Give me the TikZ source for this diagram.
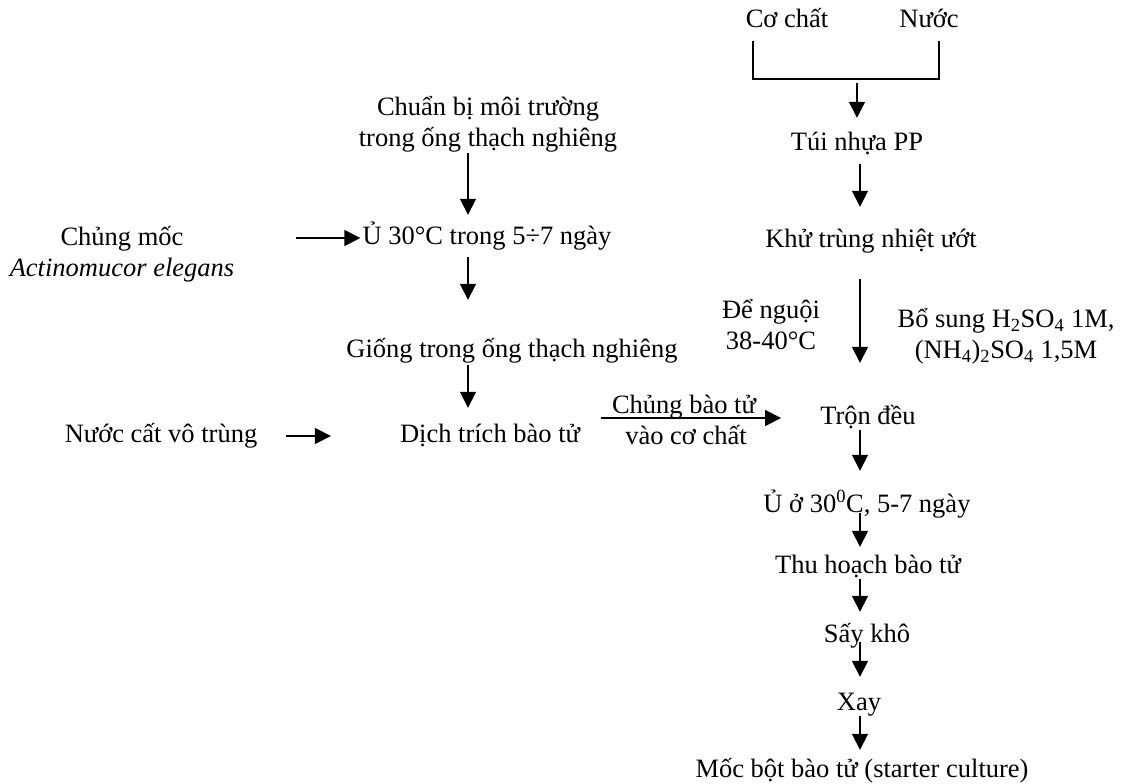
\documentclass[tikz,border=0pt]{standalone}
\usepackage{fontspec}
\setmainfont{Liberation Serif}
\usepackage{tikz}
\usetikzlibrary{arrows.meta}

\begin{document}
\begin{tikzpicture}[
    x=1pt, y=-1pt,
    font=\fontsize{26.5}{31}\selectfont,
    txt/.style={inner sep=0pt, anchor=base, text height=18pt, text depth=6pt},
    txtm/.style={inner sep=0pt, align=center},
    arr/.style={-{Triangle[length=16pt,width=16pt]}, line width=1.6pt}
]
\useasboundingbox (0,0) rectangle (1128,784);

% nhanh co chat
\node[txt] (cochat) at (787,28) {Cơ chất};
\node[txt] (nuoc) at (929,28) {Nước};
\node[txt] (tui) at (857,150) {Túi nhựa PP};
\node[txt] (khu) at (871,247) {Khử trùng nhiệt ướt};
\node[txtm] (nguoi) at (771,325) {Để nguội\\38-40°C};
\node[txtm] (bosung) at (1006,336) {Bổ sung H\textsubscript{2}SO\textsubscript{4} 1M,\\(NH\textsubscript{4})\textsubscript{2}SO\textsubscript{4} 1,5M};
\node[txt] (tron) at (868,424) {Trộn đều};
\node[txt] (u2) at (867,512) {Ủ ở 30\textsuperscript{0}C, 5-7 ngày};
\node[txt] (thu) at (868,573) {Thu hoạch bào tử};
\node[txt] (say) at (867,642) {Sấy khô};
\node[txt] (xay) at (859,710) {Xay};
\node[txt] (moc) at (862,777) {Mốc bột bào tử (starter culture)};

% nhanh giong
\node[txtm] (chuanbi) at (488,124) {Chuẩn bị môi trường\\trong ống thạch nghiêng};
\node[txtm] (chung) at (122,254) {Chủng mốc\\\textit{Actinomucor elegans}};
\node[txt] (u1) at (487,244) {Ủ 30°C trong 5÷7 ngày};
\node[txt] (giong) at (512,357) {Giống trong ống thạch nghiêng};
\node[txt] (nuoccat) at (161,442) {Nước cất vô trùng};
\node[txt] (dich) at (490,442) {Dịch trích bào tử};
\node[txt] (lbl1) at (684,413) {Chủng bào tử};
\node[txt] (lbl2) at (686,444) {vào cơ chất};

\coordinate (rcol) at (860,0);
\coordinate (lcol) at (468,0);
\coordinate (join) at (857,79);

% co chat + nuoc
\draw[line width=1.6pt] (753,41) |- (join) -| (939,41);

\draw[arr, shorten <=4pt, shorten >=14pt] (join) -- (join |- tui.north);
\draw[arr, shorten <=8pt, shorten >=22pt] (tui.south -| rcol) -- (khu.north -| rcol);
\draw[arr, shorten <=26pt, shorten >=43pt] (khu.south -| rcol) -- (tron.north -| rcol);
\draw[arr, shorten >=23pt] (tron.south -| rcol) -- (u2.north -| rcol);
\draw[arr, shorten <=-5pt, shorten >=8pt] (u2.south -| rcol) -- (thu.north -| rcol);
\draw[arr, shorten >=12pt] (thu.south -| rcol) -- (say.north -| rcol);
\draw[arr, shorten <=-6pt, shorten >=15pt] (say.south -| rcol) -- (xay.north -| rcol);
\draw[arr, shorten >=9pt] (xay.south -| rcol) -- (moc.north -| rcol);

\draw[arr, shorten <=1pt, shorten >=11pt] (chuanbi.south -| lcol) -- (u1.north -| lcol);
\draw[arr, shorten <=62pt, shorten >=2pt] (chung.east |- u1.west) -- (u1.west);
\draw[arr, shorten <=7pt, shorten >=39pt] (u1.south -| lcol) -- (giong.north -| lcol);
\draw[arr, shorten <=2pt, shorten >=16pt] (giong.south -| lcol) -- (dich.north -| lcol);
\draw[arr, shorten <=29pt, shorten >=69pt] (nuoccat.east) -- (dich.west);
\draw[arr, shorten <=21pt, shorten >=39pt] (tron.west -| dich.east) -- (tron.west);
\end{tikzpicture}
\end{document}
